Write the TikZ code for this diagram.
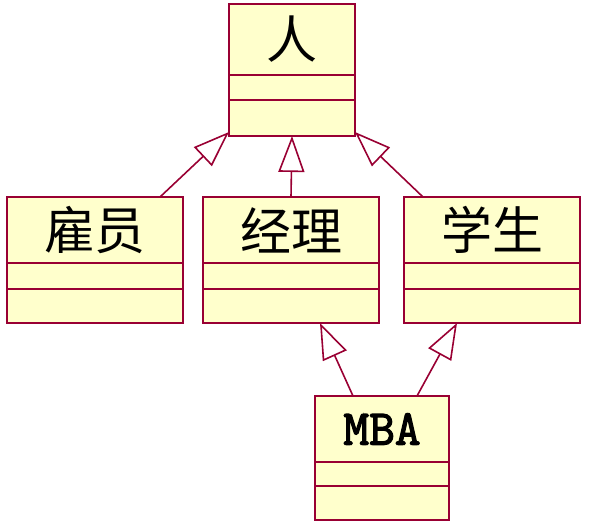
\documentclass[tikz,border=0pt]{standalone}
\usepackage{fontspec}
\newfontfamily\cjk{Noto Sans CJK SC}
\newfontfamily\monobold{Latin Modern Mono}[FakeBold=2.5]
\usepackage{tikz}
\usetikzlibrary{arrows.meta,positioning}
\definecolor{umlred}{RGB}{153,0,51}
\definecolor{umlyellow}{RGB}{255,255,204}
\tikzset{
  cls/.style={rectangle,draw=umlred,fill=umlyellow,line width=1pt,
              inner sep=0pt,outer sep=0pt,minimum width=#1},
  clsname/.style={cls=#1,minimum height=33pt,
                  font=\cjk\fontsize{25.5}{25.5}\selectfont},
  clsattr/.style={cls=#1,minimum height=13pt},
  clsop/.style={cls=#1,minimum height=17pt},
  inherit/.style={-{Triangle[open,length=18pt,width=13pt]},
                  umlred,line width=0.8pt},
}
\begin{document}
\begin{tikzpicture}[x=0.5pt,y=-0.5pt]
  \useasboundingbox (0,0) rectangle (590,530);
  % base class
  \node[clsname=63pt,minimum height=35.5pt,anchor=north west] (ren) at (229,4) {人};
  \node[clsattr=63pt,minimum height=12.5pt,below=0pt of ren] (renattr) {};
  \node[clsop=63pt,minimum height=18pt,below=0pt of renattr] (renop) {};
  % subclasses
  \node[clsname=88pt,anchor=north west] (guyuan) at (7,197) {雇员};
  \node[clsattr=88pt,below=0pt of guyuan] (guyuanattr) {};
  \node[clsop=88pt,below=0pt of guyuanattr] (guyuanop) {};
  \node[clsname=88pt,anchor=north west] (jingli) at (203,197) {经理};
  \node[clsattr=88pt,below=0pt of jingli] (jingliattr) {};
  \node[clsop=88pt,below=0pt of jingliattr] (jinglop) {};
  \node[clsname=88pt,anchor=north west] (xuesheng) at (404,197) {学生};
  \node[clsattr=88pt,below=0pt of xuesheng] (xueshengattr) {};
  \node[clsop=88pt,below=0pt of xueshengattr] (xueshengop) {};
  % MBA
  \node[clsname=67pt,font=\monobold\fontsize{25}{25}\selectfont,
        anchor=north west] (mba) at (315,396) {MBA};
  \node[clsattr=67pt,minimum height=12pt,below=0pt of mba] (mbaattr) {};
  \node[clsop=67pt,below=0pt of mbaattr] (mbaop) {};
  % generalisation
  \draw[inherit] ([xshift=-11.5pt]guyuan.north east) -- ([yshift=2pt]renop.south west);
  \draw[inherit] (jingli.north) -- (renop.south);
  \draw[inherit] ([xshift=9.5pt]xuesheng.north west) -- ([yshift=2pt]renop.south east);
  \draw[inherit] ([xshift=19pt]mba.north west) -- ([xshift=-29.5pt]jinglop.south east);
  \draw[inherit] ([xshift=-16pt]mba.north east) -- ([xshift=26.5pt]xueshengop.south west);
\end{tikzpicture}
\end{document}
